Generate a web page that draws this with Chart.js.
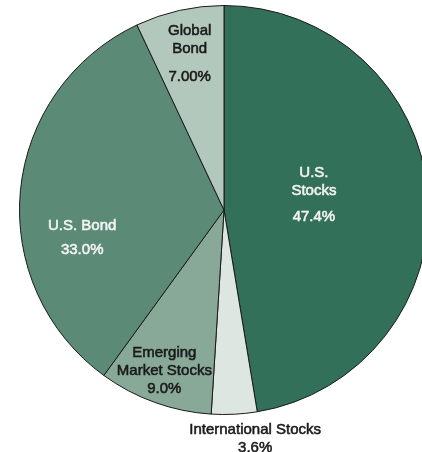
<!DOCTYPE html>
<html>
<head>
<meta charset="utf-8">
<script src="https://cdn.jsdelivr.net/npm/chart.js@4.4.0/dist/chart.umd.min.js"></script>
<style>
  html, body { margin: 0; padding: 0; background: #fff; overflow: hidden; }
  #wrap { position: absolute; left: 0; top: 0; width: 448px; height: 452px; }
</style>
</head>
<body>
<div id="wrap"><canvas id="pieChart" width="448" height="452"></canvas></div>
<script>
// slices clockwise from 12 o'clock
const categories = [['U.S.', 'Stocks'], ['International Stocks'], ['Emerging', 'Market Stocks'], ['U.S. Bond'], ['Global', 'Bond']];
const values = [47.4, 3.6, 9.0, 33.0, 7.0];
const valueLabels = ['47.4%', '3.6%', '9.0%', '33.0%', '7.00%'];

const sliceColors = ['#33705a', '#dde6e1', '#88a998', '#5b8a77', '#b3c8bd'];
const textColors = ['#f4f4f4', '#1a1a1a', '#1a1a1a', '#f4f4f4', '#1a1a1a'];
// label placement relative to each arc's center point: dx, dy of first line, gap before the percent
const labelPlace = [
    { dx: -12, dy: -29, gap: 26 },
    { dx: 26, dy: 118, gap: 18 },
    { dx: -25, dy: 47, gap: 18 },
    { dx: -40, dy: 25, gap: 24 },
    { dx: -12, dy: -79, gap: 28 }
];

// text with a thin outline so it reads a bit heavier, like the original
function drawText(ctx, text, x, y) {
    ctx.fillText(text, x, y);
    ctx.strokeText(text, x, y);
}

const sliceLabels = {
    id: 'sliceLabels',
    afterDatasetsDraw(chart) {
        const ctx = chart.ctx;
        const meta = chart.getDatasetMeta(0);
        ctx.save();
        ctx.font = '15px "Liberation Sans", Arial, sans-serif';
        ctx.textAlign = 'center';
        ctx.textBaseline = 'middle';
        ctx.lineWidth = 0.55;
        meta.data.forEach((arc, i) => {
            const c = arc.getCenterPoint();
            const p = labelPlace[i];
            const x = c.x + p.dx;
            let y = c.y + p.dy;
            ctx.fillStyle = textColors[i];
            ctx.strokeStyle = textColors[i];
            categories[i].forEach((line, j) => {
                if (j > 0) y += 18;
                drawText(ctx, line, x, y);
            });
            drawText(ctx, valueLabels[i], x, y + p.gap);
        });
        ctx.restore();
    }
};

new Chart(document.getElementById('pieChart'), {
    type: 'pie',
    data: {
        labels: categories.map(l => l.join(' ')),
        datasets: [{
            data: values,
            backgroundColor: sliceColors,
            borderColor: '#1a1a1a',
            borderWidth: 1
        }]
    },
    options: {
        responsive: false,
        animation: false,
        layout: { padding: { left: 19, right: 19, top: 5, bottom: 37 } },
        plugins: {
            legend: { display: false },
            tooltip: { enabled: false }
        }
    },
    plugins: [sliceLabels]
});
</script>
</body>
</html>
